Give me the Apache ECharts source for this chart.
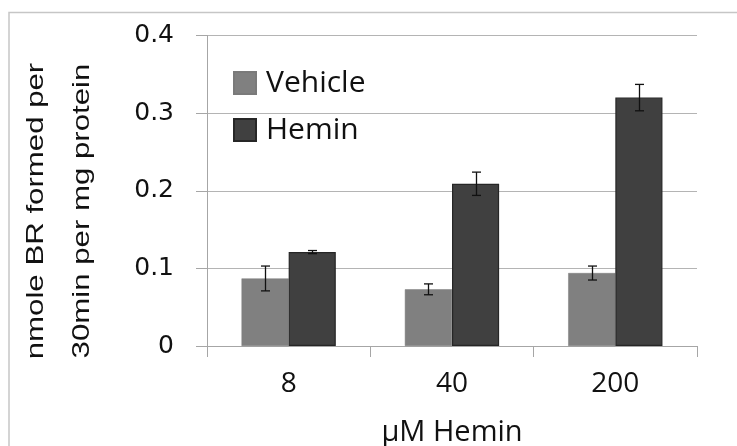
<!DOCTYPE html>
<html>
<head>
<meta charset="utf-8">
<script src="https://cdn.jsdelivr.net/npm/echarts@6/dist/echarts.min.js"></script>
<style>
  html, body { margin: 0; padding: 0; background: #fff; }
  #chart { width: 737px; height: 446px; }
</style>
</head>
<body>
<div id="chart"></div>
<script>
// Hemin concentrations (µM) on the x axis
var categories = ['8', '40', '200'];
// Bilirubin formation, nmole per 30 min per mg protein
var vehicleValues = [0.087, 0.073, 0.094];
var vehicleErrors = [0.016, 0.007, 0.009];
var heminValues = [0.121, 0.209, 0.320];
var heminErrors = [0.002, 0.015, 0.017];
var yTicks = [0, 0.1, 0.2, 0.3, 0.4];
var yTitleLines = ['nmole BR formed per', '30min per mg protein'];

var GAP = 0.423; // share of each category left empty between bar pairs

function errorSeries(values, errors, side) {
  var data = values.map(function (v, i) { return [i, v - errors[i], v + errors[i]]; });
  return {
    type: 'custom',
    z: 10,
    silent: true,
    data: data,
    renderItem: function (params, api) {
      var band = api.size([1, 0])[0];
      var barW = band * (1 - GAP) / 2;
      var lo = api.coord([api.value(0), api.value(1)]);
      var hi = api.coord([api.value(0), api.value(2)]);
      var x = Math.round(lo[0] + side * barW / 2) + 0.5;
      var cap = 4.5;
      var style = { stroke: '#111', lineWidth: 1.3, fill: null };
      return {
        type: 'group',
        children: [
          { type: 'line', shape: { x1: x, y1: hi[1], x2: x, y2: lo[1] }, style: style },
          { type: 'line', shape: { x1: x - cap, y1: hi[1], x2: x + cap, y2: hi[1] }, style: style },
          { type: 'line', shape: { x1: x - cap, y1: lo[1], x2: x + cap, y2: lo[1] }, style: style }
        ]
      };
    }
  };
}

// Rotated, slightly widened y-axis title, one text element per line
function yTitle(text, cx) {
  return {
    type: 'text',
    x: cx,
    y: 211,
    rotation: Math.PI / 2,
    scaleX: 1.3,
    style: {
      text: text,
      fontFamily: 'Liberation Sans',
      fontSize: 24,
      fill: '#111',
      textAlign: 'center',
      textVerticalAlign: 'middle'
    }
  };
}

var chart = echarts.init(document.getElementById('chart'), null, { renderer: 'canvas' });
chart.setOption({
  animation: false,
  backgroundColor: '#fff',
  graphic: [
    {
      type: 'rect',
      shape: { x: 9, y: 12.5, width: 740, height: 450 },
      style: { fill: null, stroke: '#c6c6c6', lineWidth: 1.5 },
      z: -10
    },
    yTitle(yTitleLines[0], 36),
    yTitle(yTitleLines[1], 82)
  ],
  grid: { left: 207, right: 40, top: 35.5, bottom: 100, containLabel: false, outerBoundsMode: 'none' },
  legend: {
    orient: 'vertical',
    left: 233,
    top: 68,
    padding: 0,
    itemWidth: 22,
    itemHeight: 22,
    itemGap: 17,
    textStyle: { fontFamily: 'Open Sans', fontSize: 30, lineHeight: 30, color: '#111', padding: [0, 0, 0, 5] },
    data: [
      { name: 'Vehicle', icon: 'rect' },
      { name: 'Hemin', icon: 'rect' }
    ]
  },
  xAxis: {
    type: 'category',
    data: categories,
    name: 'µM Hemin',
    nameLocation: 'middle',
    nameGap: 72,
    nameTextStyle: { fontFamily: 'Open Sans', fontSize: 29, color: '#111' },
    axisLine: { lineStyle: { color: '#a6a6a6', width: 1 } },
    axisTick: { show: true, length: 11, interval: 0, lineStyle: { color: '#a6a6a6' } },
    axisLabel: { fontFamily: 'Open Sans', fontSize: 28, color: '#111', margin: 24 }
  },
  yAxis: {
    type: 'value',
    min: 0,
    max: 0.4,
    interval: 0.1,
    axisLine: { show: true, lineStyle: { color: '#a6a6a6', width: 1 } },
    axisTick: { show: true, length: 11, lineStyle: { color: '#a6a6a6' } },
    splitLine: { lineStyle: { color: '#b4b4b4', width: 1 } },
    axisLabel: {
      fontFamily: 'DejaVu Sans', fontSize: 25, color: '#111', margin: 33,
      formatter: function (v) {
        for (var i = 0; i < yTicks.length; i++) {
          if (Math.abs(v - yTicks[i]) < 1e-9) return String(yTicks[i]);
        }
        return '';
      }
    }
  },
  series: [
    {
      name: 'Vehicle',
      type: 'bar',
      data: vehicleValues,
      barGap: '0%',
      barCategoryGap: (GAP * 100) + '%',
      itemStyle: { color: '#808080', borderColor: '#7a7a7a', borderWidth: 0.5 }
    },
    {
      name: 'Hemin',
      type: 'bar',
      data: heminValues,
      barGap: '0%',
      barCategoryGap: (GAP * 100) + '%',
      itemStyle: { color: '#404040', borderColor: '#262626', borderWidth: 1.2 }
    },
    errorSeries(vehicleValues, vehicleErrors, -1),
    errorSeries(heminValues, heminErrors, 1)
  ]
});
</script>
</body>
</html>
